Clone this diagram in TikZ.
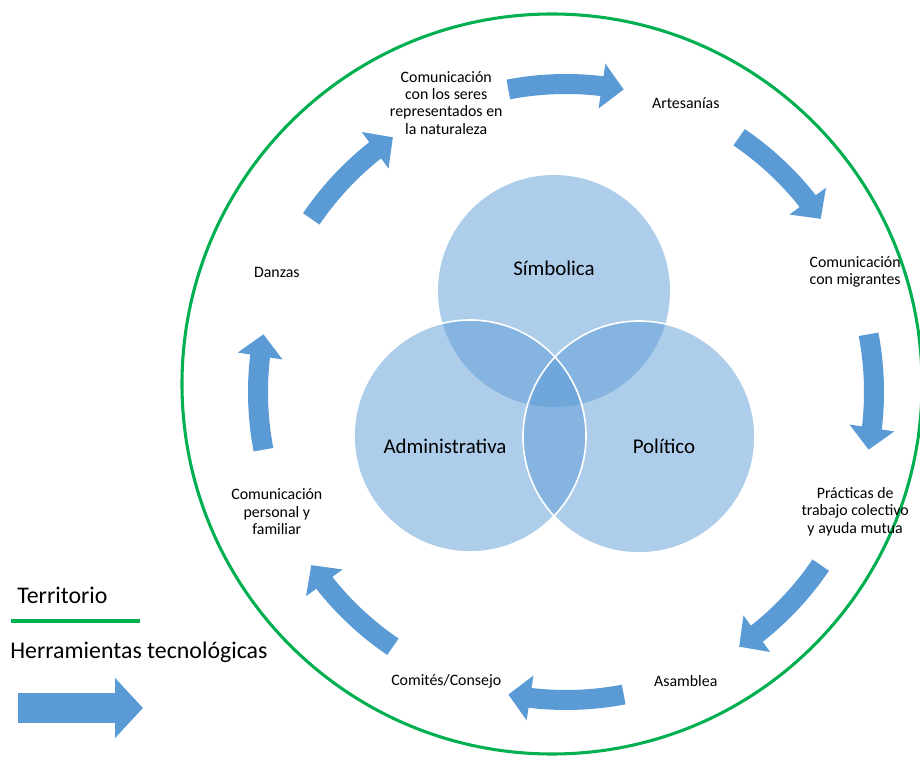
\documentclass[tikz,border=0pt]{standalone}
\usepackage{fontspec}
\setmainfont{Carlito}
\usetikzlibrary{arrows.meta,bending}
\definecolor{flowblue}{RGB}{91,155,213}
\definecolor{terrgreen}{RGB}{0,176,80}

\begin{document}
\begin{tikzpicture}[x=0.75pt,y=0.75pt,
  flow/.style={draw=flowblue, line width=15pt, -{Triangle[width=33pt,length=16.5pt,flex]}},
  item/.style={align=center, inner sep=0pt, font=\fontsize{11.9}{13}\selectfont},
  dimension/.style={inner sep=0pt, font=\fontsize{15.7}{18}\selectfont},
  legend/.style={anchor=west, inner sep=0pt, font=\fontsize{17.9}{21}\selectfont},
  venn/.style={fill=flowblue, fill opacity=0.5},
  rim/.style={draw=white, line width=1.2pt}]
\useasboundingbox (0,0) rectangle (920,756);
% territorio
\draw[terrgreen, line width=2.3pt] (552,372) circle[radius=370];
% dimensiones
\fill[venn] (554,465) circle[radius=116];
\fill[venn] (470,320) circle[radius=116];
\fill[venn] (639,319) circle[radius=116];
\draw[rim] (470,320) circle[radius=116];
\draw[rim] (639,319) circle[radius=116];
\node[dimension] (simb) at (554,488) {Símbolica};
\node[dimension] (admin) at (445,310) {Administrativa};
\node[dimension] (poli) at (664,310) {Político};
% herramientas
\coordinate (c) at (566,364);
\foreach \ang/\name/\txt in {
  112.5/seres/{Comunicación\\con los seres\\representados en\\la naturaleza},
  67.5/arte/{Artesanías},
  22.5/migr/{Comunicación\\con migrantes},
  -22.5/prac/{Prácticas de\\trabajo colectivo\\y ayuda mutua},
  -67.5/asam/{Asamblea},
  -112.5/comi/{Comités/Consejo},
  -157.5/pers/{Comunicación\\personal y\\familiar},
  157.5/danz/{Danzas}}
  \node[item] (\name) at ([shift={(\ang:313)}]c) {\txt};
\foreach \ang in {90,45,...,-225}
  \draw[flow] ([shift={(\ang+10.8:308)}]c) arc[start angle=\ang+10.8, end angle=\ang-10.8, radius=308];
% leyenda
\node[legend] (terr) at (17,161) {Territorio};
\draw[terrgreen, line width=2.5pt] (11,135) -- (140,135);
\node[legend] (herr) at (10,104) {Herramientas tecnológicas};
\draw[flowblue, line width=22.5pt, -{Triangle[width=44pt,length=21pt]}] (18,48) -- (143,48);
\end{tikzpicture}
\end{document}
